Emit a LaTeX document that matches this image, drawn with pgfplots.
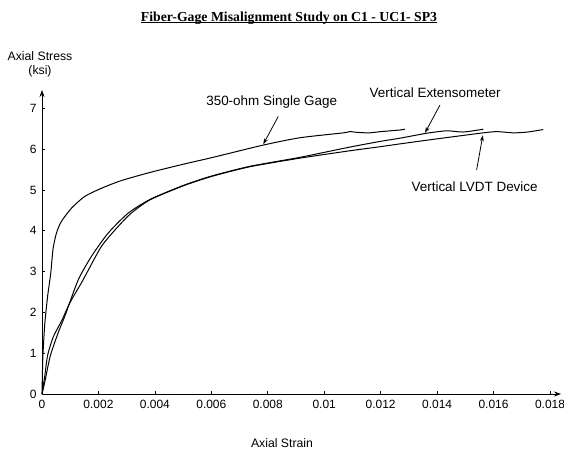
\documentclass[border=0pt]{standalone}
\usepackage{pgfplots}
\pgfplotsset{compat=1.18}
\usepackage{fontspec}
\setmainfont{Liberation Sans}
\newfontfamily\titlefont{Liberation Serif}
\usetikzlibrary{arrows.meta}

% underline drawn through the descenders, as in the report heading
\newcommand\headrule[1]{\setbox0\hbox{#1}\rlap{\rule[-1.8pt]{\wd0}{0.9pt}}\box0}

% strain, stress (ksi)
\pgfplotstableread{
x y
0 0
0.00003 0.90
0.00010 1.73
0.00020 2.40
0.00031 2.96
0.00039 3.55
0.00051 3.94
0.00068 4.22
0.00104 4.55
0.00151 4.84
0.00210 5.04
0.00281 5.23
0.00383 5.43
0.00500 5.63
0.00600 5.79
0.00784 6.10
0.00914 6.28
0.01068 6.40
0.01090 6.43
0.01120 6.41
0.01160 6.40
0.01200 6.43
0.01269 6.47
0.01286 6.49
}\singlegage

\pgfplotstableread{
x y
0 0
0.00010 0.30
0.00030 0.95
0.00060 1.55
0.00080 1.89
0.00128 2.79
0.00175 3.37
0.00234 3.94
0.00305 4.43
0.00383 4.77
0.00500 5.11
0.00600 5.34
0.00737 5.58
0.00914 5.80
0.01090 6.05
0.01198 6.19
0.01269 6.27
0.01363 6.39
0.01434 6.45
0.01493 6.42
0.01564 6.49
}\extenso

\pgfplotstableread{
x y
0 0
0.00010 0.45
0.00020 0.95
0.00040 1.40
0.00070 1.80
0.00100 2.25
0.00145 2.79
0.00210 3.61
0.00269 4.10
0.00316 4.43
0.00383 4.76
0.00500 5.10
0.00600 5.33
0.00737 5.57
0.00914 5.78
0.01090 5.96
0.01198 6.06
0.01269 6.13
0.01375 6.23
0.01552 6.39
0.01611 6.43
0.01670 6.40
0.01720 6.42
0.01776 6.48
}\lvdt

\begin{document}
\begin{tikzpicture}
\path[use as bounding box] (0,0) rectangle (564bp,451bp);
\begin{axis}[
  at={(42bp,57bp)}, anchor=south west,
  scale only axis, width=519bp, height=304bp,
  xmin=0, xmax=0.01839, ymin=0, ymax=7.45,
  clip=false,
  axis lines=left,
  axis line style={line width=0.8pt, -{Stealth[length=7pt,width=5pt]}},
  tick align=inside,
  major tick length=3bp,
  tick style={line width=0.6pt, black},
  xtick={0,0.002,0.004,0.006,0.008,0.01,0.012,0.014,0.016,0.018},
  xticklabels={0,0.002,0.004,0.006,0.008,0.01,0.012,0.014,0.016,0.018},
  scaled x ticks=false,
  ytick={0,1,2,3,4,5,6,7},
  /pgf/number format/assume math mode=true,
  ticklabel style={font=\fontsize{12}{14}\selectfont},
  xticklabel style={yshift=-3bp},
  yticklabel style={xshift=-2bp},
  every axis plot/.append style={black, line width=1pt, line join=round},
]
\addplot[smooth, tension=0.4] table {\singlegage};
\addplot[smooth, tension=0.4] table {\extenso};
\addplot[smooth, tension=0.4] table {\lvdt};

\node[font=\fontsize{13.5}{16}\selectfont] at (axis cs:0.00814,7.16) {350-ohm Single Gage};
\draw[line width=0.8pt, -{Stealth[length=6pt,width=4pt]}] (axis cs:0.00837,6.80) -- (axis cs:0.00784,6.12);
\node[font=\fontsize{13.5}{16}\selectfont] at (axis cs:0.01393,7.38) {Vertical Extensometer};
\draw[line width=0.8pt, -{Stealth[length=6pt,width=4pt]}] (axis cs:0.01410,7.08) -- (axis cs:0.01357,6.40);
\node[font=\fontsize{13.5}{16}\selectfont] at (axis cs:0.01533,5.08) {Vertical LVDT Device};
\draw[line width=0.8pt, -{Stealth[length=6pt,width=4pt]}] (axis cs:0.01540,5.49) -- (axis cs:0.01562,6.34);
\end{axis}

\node[font=\titlefont\bfseries\fontsize{13.8}{16}\selectfont] at (289bp,433bp)
  {\headrule{Fiber-Gage Misalignment Study on C1 - UC1- SP3}};
\node[font=\fontsize{12.3}{14}\selectfont, align=center] at (40bp,387bp) {Axial Stress\\(ksi)};
\node[font=\fontsize{12.3}{14}\selectfont] at (282bp,8bp) {Axial Strain};
\end{tikzpicture}
\end{document}
